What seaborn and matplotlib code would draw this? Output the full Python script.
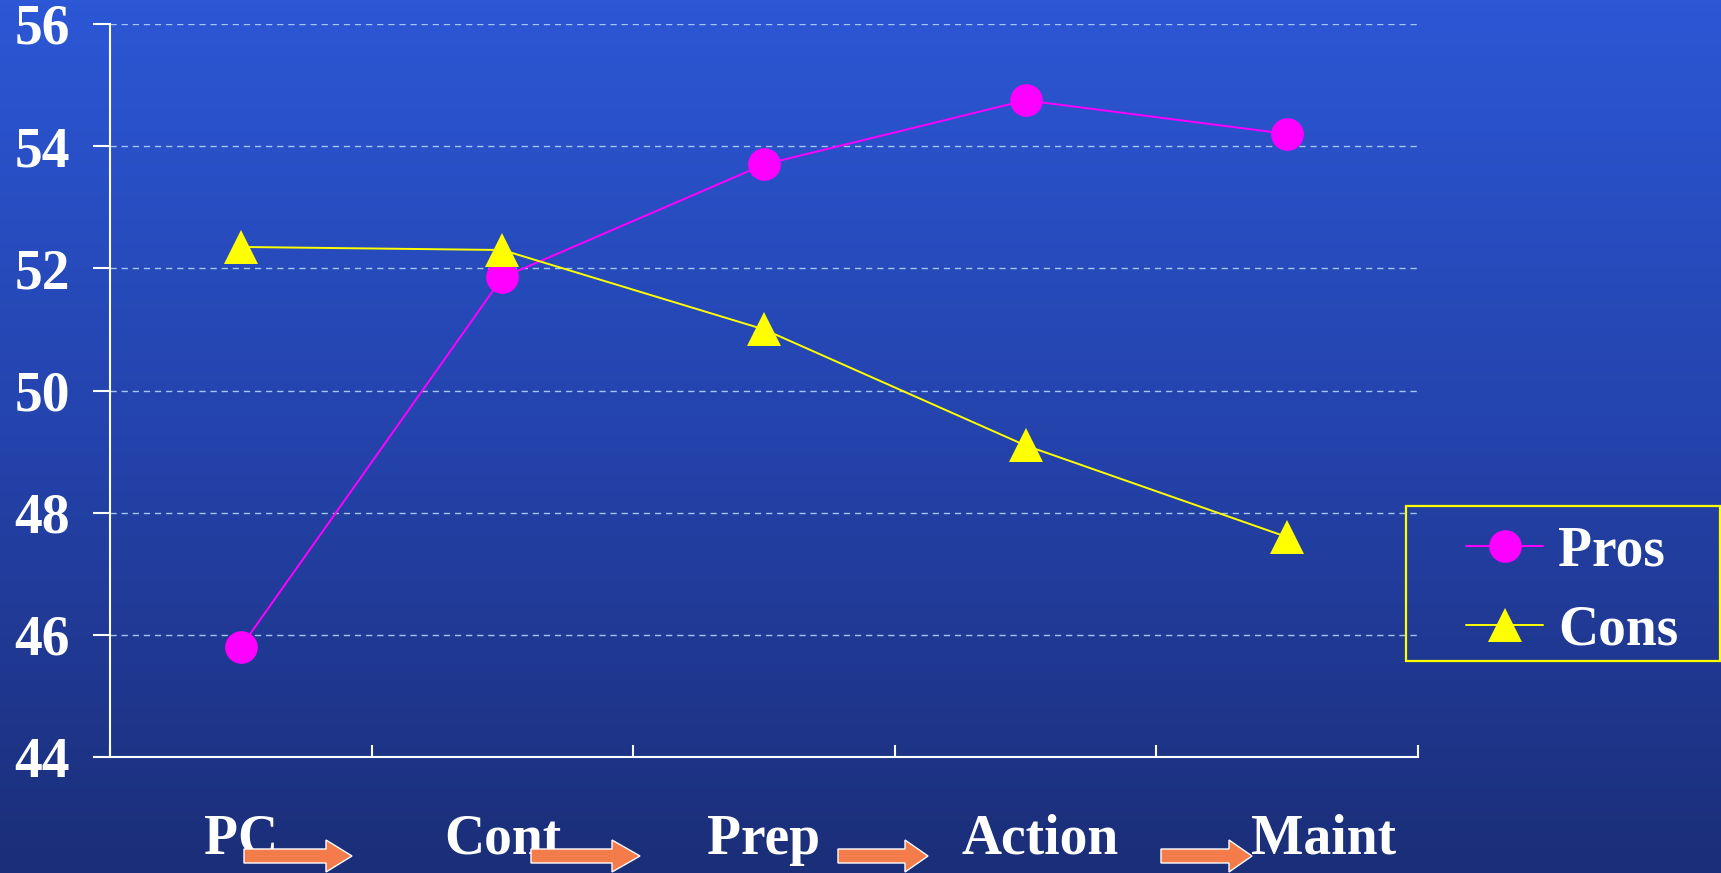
import numpy as np
import pandas as pd
import matplotlib
matplotlib.use("Agg")
import matplotlib.pyplot as plt
import matplotlib.patches as mpatches
from matplotlib.colors import LinearSegmentedColormap
from matplotlib.lines import Line2D
import seaborn as sns

# Stages of change and decisional balance scores
stages = ["PC", "Cont", "Prep", "Action", "Maint"]
pros = [45.8, 51.85, 53.7, 54.75, 54.2]
cons = [52.35, 52.3, 51.0, 49.1, 47.6]
y_ticks = [44, 46, 48, 50, 52, 54, 56]

df = pd.DataFrame({"stage": stages * 2,
                   "score": pros + cons,
                   "measure": ["Pros"] * 5 + ["Cons"] * 5})
df["pos"] = np.tile(np.arange(len(stages)), 2)

sns.set_theme(style="white")
plt.rcParams["font.family"] = ["Liberation Serif", "DejaVu Serif"]
plt.rcParams["font.weight"] = "bold"

W, H, DPI = 1721, 873, 100
fig = plt.figure(figsize=(W / DPI, H / DPI), dpi=DPI)

# vertical gradient background
bg = fig.add_axes([0, 0, 1, 1], zorder=-10)
grad = LinearSegmentedColormap.from_list(
    "slide", ["#2C57D5", "#2443AC", "#1B2E78"])
bg.imshow(np.linspace(0, 1, 256)[:, None], aspect="auto", cmap=grad,
          extent=[0, 1, 0, 1], origin="upper")
bg.set_axis_off()

ax = fig.add_axes([110 / W, 1 - 757 / H, (1418 - 110) / W, (757 - 24) / H])
ax.patch.set_alpha(0)

palette = {"Pros": "#FF00FF", "Cons": "#FFFF00"}
markers = {"Pros": "o", "Cons": "^"}
sizes = {"Pros": 23.5, "Cons": 24.5}
for name in ["Cons", "Pros"]:
    sub = df[df["measure"] == name]
    sns.lineplot(data=sub, x="pos", y="score", ax=ax, color=palette[name],
                 marker=markers[name], markersize=sizes[name],
                 markeredgewidth=0, linewidth=1.4,
                 zorder=3 if name == "Pros" else 4, legend=False)

ax.set_xlim(-0.5, len(stages) - 0.5)
ax.set_ylim(44, 56)
ax.set_xlabel("")
ax.set_ylabel("")

# y axis
ax.set_yticks(y_ticks)
ax.set_yticklabels([str(t) for t in y_ticks], fontsize=40, fontweight="bold",
                   color="white")
ax.tick_params(axis="y", direction="out", length=12, width=1.5,
               color="white", pad=17, left=True)
for t in y_ticks[1:]:
    ax.axhline(t, color="#A4C6F2", linewidth=1.0, linestyle=(0, (4.5, 3.5)),
               zorder=1)

# x axis: tick marks on category boundaries, names set below as text
ax.set_xticks(np.arange(-0.5, len(stages), 1.0))
ax.set_xticklabels([])
ax.tick_params(axis="x", direction="in", length=9, width=1.5,
               color="white", bottom=True)

for side in ["top", "right"]:
    ax.spines[side].set_visible(False)
for side in ["left", "bottom"]:
    ax.spines[side].set_color("white")
    ax.spines[side].set_linewidth(1.5)

label_shift = [0.0, 0.0, 0.0, 0.057, 0.14]
for i, name in enumerate(stages):
    ax.text(i + label_shift[i], -0.132, name, transform=ax.get_xaxis_transform(),
            ha="center", va="baseline", fontsize=40, fontweight="bold",
            color="white", zorder=2)

# orange block arrows between the stage names (pixel geometry)
def block_arrow(x0, x1, tip, yc):
    body_h, head_h = 7, 16
    pts = [(x0, yc - body_h), (x1, yc - body_h), (x1, yc - head_h),
           (tip, yc), (x1, yc + head_h), (x1, yc + body_h), (x0, yc + body_h)]
    pts = [(x / W, 1 - y / H) for x, y in pts]
    fig.add_artist(mpatches.Polygon(pts, closed=True, facecolor="#F47B4A",
                                    edgecolor="white", linewidth=1.0,
                                    transform=fig.transFigure, zorder=5))

for x0, x1, tip in [(244, 326, 352), (531, 612, 640),
                    (838, 905, 928), (1161, 1229, 1252)]:
    block_arrow(x0, x1, tip, 856)

# legend box
fig.add_artist(mpatches.Rectangle((1406 / W, 1 - 661 / H), (1720 - 1406) / W,
                                  (661 - 506) / H, transform=fig.transFigure,
                                  facecolor="none", edgecolor="#FFFF00",
                                  linewidth=1.6, zorder=6))
handles = [Line2D([], [], color=palette[n], marker=markers[n],
                  markersize=sizes[n], markeredgewidth=0, linewidth=1.4)
           for n in ["Pros", "Cons"]]
leg = fig.legend(handles, ["Pros", "Cons"], loc="center left",
                 bbox_to_anchor=(1466 / W, 1 - 591 / H),
                 frameon=False, fontsize=40, handlelength=1.39,
                 handletextpad=0.27, labelspacing=0.48, borderpad=0,
                 borderaxespad=0)
for txt in leg.get_texts():
    txt.set_color("white")
    txt.set_fontweight("bold")

fig.savefig("out.png", dpi=DPI)
